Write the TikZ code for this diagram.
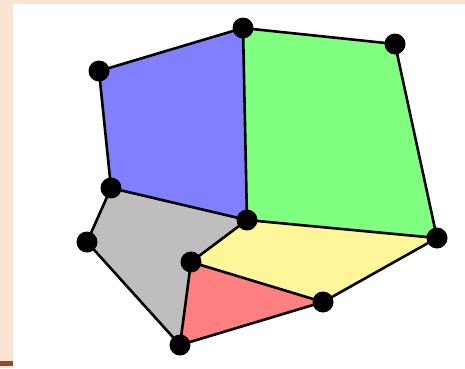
\documentclass[tikz,border=0pt]{standalone}
\begin{document}
\begin{tikzpicture}[x=1pt,y=-1pt,
  edge/.style={line width=2.6pt,line join=round},
  vtx/.style={circle,fill=black,inner sep=0pt,minimum size=21pt}]
\definecolor{peach}{RGB}{249,228,212}
\definecolor{brownbar}{RGB}{140,75,45}
\definecolor{fblue}{RGB}{128,128,255}
\definecolor{fgreen}{RGB}{128,255,128}
\definecolor{fgray}{RGB}{190,190,190}
\definecolor{fyellow}{RGB}{255,246,153}
\definecolor{fred}{RGB}{255,128,128}
\useasboundingbox (0,0) rectangle (465,368);
\fill[peach] (0,0) rectangle (465,368);
\fill[white] (13,4) rectangle (465,368);
\fill[brownbar] (0,361) rectangle (13,366);
\coordinate (A) at (243,28);
\coordinate (B) at (395,44);
\coordinate (C) at (99,71);
\coordinate (D) at (111,188);
\coordinate (E) at (247,220);
\coordinate (F) at (437,238);
\coordinate (G) at (87,242);
\coordinate (H) at (191,262);
\coordinate (I) at (323,302);
\coordinate (J) at (180,345);
\fill[fblue] (C) -- (A) -- (E) -- (D) -- cycle;
\fill[fgreen] (A) -- (B) -- (F) -- (E) -- cycle;
\fill[fgray] (D) -- (E) -- (H) -- (J) -- (G) -- cycle;
\fill[fyellow] (E) -- (F) -- (I) -- (H) -- cycle;
\fill[fred] (H) -- (I) -- (J) -- cycle;
\draw[edge] (C) -- (A) -- (B) -- (F) -- (I) -- (J) -- (G) -- (D) -- cycle;
\draw[edge] (A) -- (E) -- (F);
\draw[edge] (D) -- (E) -- (H) -- (J);
\draw[edge] (H) -- (I);
\foreach \p in {A,B,C,D,E,F,G,H,I,J} \node[vtx] (v\p) at (\p) {};
\end{tikzpicture}
\end{document}
